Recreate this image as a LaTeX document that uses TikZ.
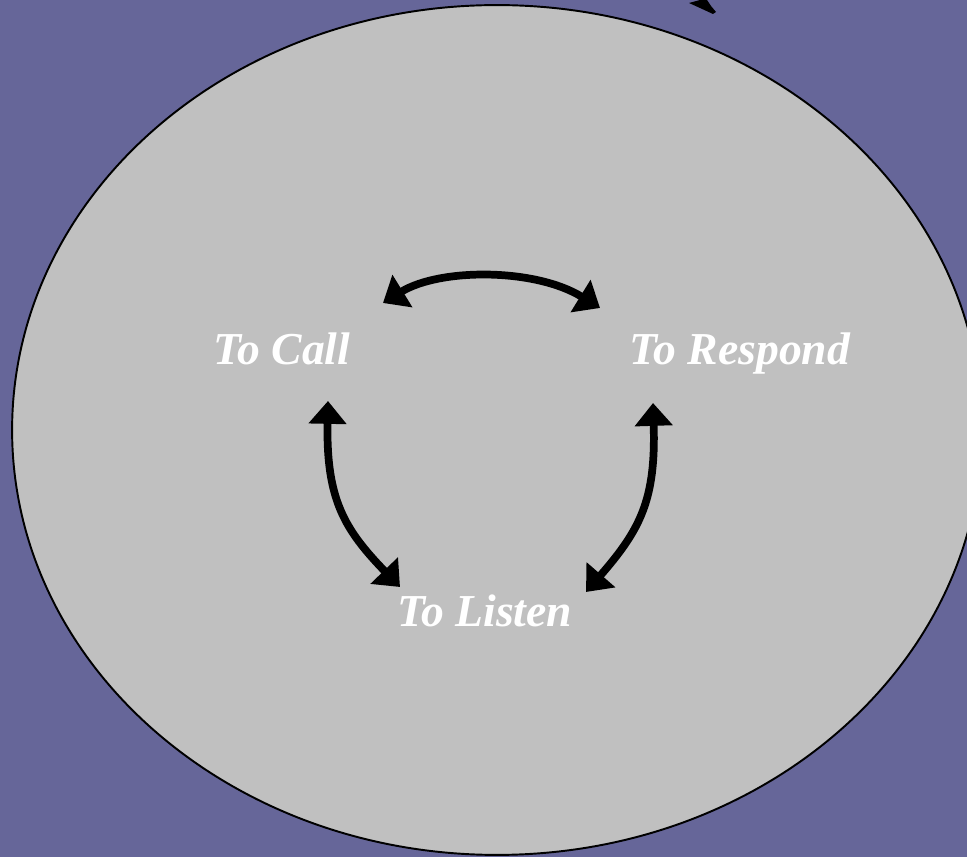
\documentclass[tikz,border=0pt]{standalone}
\usepackage{fontspec}
\setmainfont{Liberation Serif}
\usetikzlibrary{arrows.meta}
\definecolor{bgpurple}{RGB}{102,102,153}
\definecolor{discgray}{RGB}{192,192,192}

\begin{document}
\begin{tikzpicture}[x=0.02cm,y=-0.02cm,
  phase/.style={font=\fontsize{26}{30}\selectfont\bfseries\itshape,text=white,inner sep=0pt,anchor=base},
  cyc/.style={line width=4.4pt,{Triangle[length=13pt,width=21pt]}-{Triangle[length=13pt,width=21pt]}}]
\useasboundingbox (0,0) rectangle (967,857);
\fill[bgpurple] (0,0) rectangle (967,857);
\begin{scope}
\clip (0,0) rectangle (967,857);
\draw[fill=discgray,line width=1.1pt] (497,430) ellipse [x radius=9.7cm, y radius=8.5cm];
% piece cut off at the top edge
\fill[black] (689,3) -- (700,0) -- (707,0) -- (711,6) -- (716,12) -- (713,14) -- (700,8) -- cycle;
\end{scope}

\node[phase] (call) at (282,365) {To Call};
\node[phase] (respond) at (740,365) {To Respond};
\node[phase] (listen) at (485,627) {To Listen};

\draw[cyc] ([shift={(101,-62)}]call.base) .. controls +(57,-35) and +(-65,-40) .. ([shift={(-140,-57)}]respond.base);
\draw[cyc] ([shift={(46,36)}]call.base) .. controls +(-2,99) and +(-55,-57) .. ([shift={(-85,-40)}]listen.base);
\draw[cyc] ([shift={(-87,38)}]respond.base) .. controls +(3,97) and +(54,-62) .. ([shift={(101,-35)}]listen.base);

\end{tikzpicture}
\end{document}
